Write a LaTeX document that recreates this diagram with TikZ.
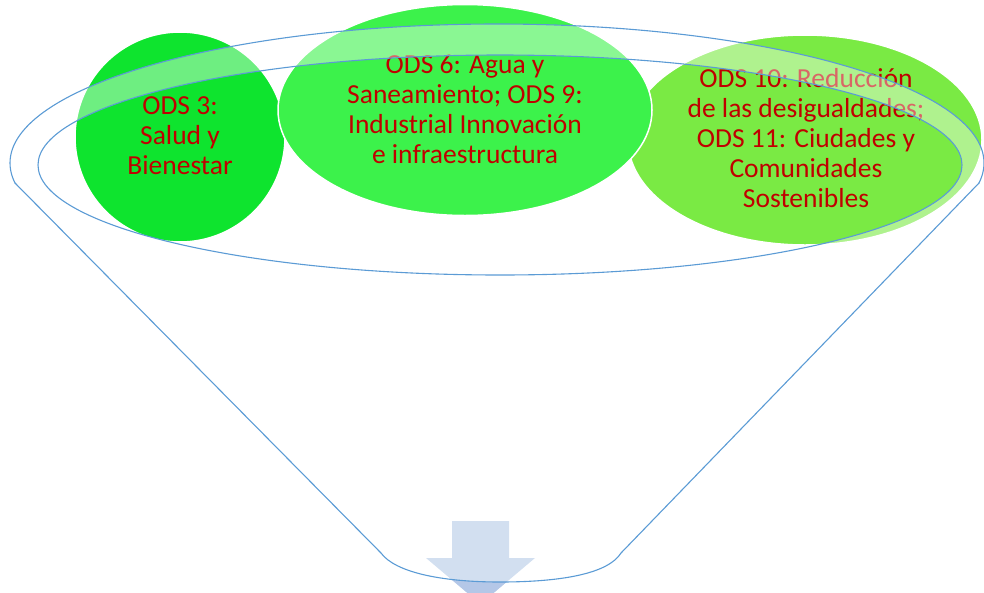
\documentclass[tikz,border=0pt]{standalone}
\usepackage{fontspec}
\setmainfont{Carlito}
\usetikzlibrary{shapes.geometric}
\definecolor{funblue}{RGB}{91,155,213}
\definecolor{txtred}{RGB}{192,0,0}
\definecolor{gA}{RGB}{14,228,46}
\definecolor{gB}{RGB}{60,242,75}
\definecolor{gC}{RGB}{122,234,68}
\definecolor{arrowlight}{RGB}{210,223,240}
\definecolor{arrowdark}{RGB}{180,199,231}
\begin{document}
\begin{tikzpicture}[x=1pt,y=-1pt,
  funnelline/.style={draw=funblue, line width=1.1pt},
  goal/.style={draw=white, line width=1.5pt, inner sep=0pt},
  goaltext/.style={text=txtred, align=center, inner sep=0pt,
    font=\fontsize{27.5}{30}\selectfont}]
\useasboundingbox (0,0) rectangle (984,592);
% arrow
\coordinate (al) at (381,553);
\coordinate (ar) at (621,553);
\fill[arrowlight] (452,521) -- (509,521) -- (509,558) -- (535,558) -- (480.5,604) -- (426,558) -- (452,558) -- cycle;
\begin{scope}
  \clip (al) .. controls (395,572) and (440,582) .. (500,582) .. controls (560,582) and (608,574) .. (ar) -- (621,610) -- (381,610) -- cycle;
  \fill[arrowdark] (452,521) -- (509,521) -- (509,558) -- (535,558) -- (480.5,604) -- (426,558) -- (452,558) -- cycle;
\end{scope}
% goals
\node[goal, fill=gC, ellipse, minimum width=354pt, minimum height=210pt] (g3) at (805,140) {};
\node[goal, fill=gA, circle, minimum size=210pt] (g1) at (180,137) {};
\node[goal, fill=gB, ellipse, minimum width=374pt, minimum height=211pt] (g2) at (465,110) {};
\node[goaltext] (t1) at (180,136) {ODS 3:\\Salud y\\Bienestar};
\node[goaltext] (t2) at (465,109) {ODS 6: Agua y\\Saneamiento; ODS 9:\\Industrial Innovación\\e infraestructura};
\node[goaltext] (t3) at (806,138) {ODS 10: Reducción\\de las desigualdades;\\ODS 11: Ciudades y\\Comunidades\\Sostenibles};
% rim band
\fill[white, fill opacity=0.4, even odd rule] (497,163) ellipse [x radius=487pt, y radius=139pt] (500,165) ellipse [x radius=462pt, y radius=110pt];
% funnel lines
\begin{scope}
  \clip (-5,-5) rectangle (990,183);
  \draw[funnelline] (497,163) ellipse [x radius=487pt, y radius=139pt];
\end{scope}
\coordinate (cl) at (15,183);
\coordinate (cr) at (979,183);
\draw[funnelline] (cl) -- (al) .. controls (395,572) and (440,582) .. (500,582) .. controls (560,582) and (608,574) .. (ar) -- (cr);
\draw[funnelline] (500,165) ellipse [x radius=462pt, y radius=110pt];
\end{tikzpicture}
\end{document}
